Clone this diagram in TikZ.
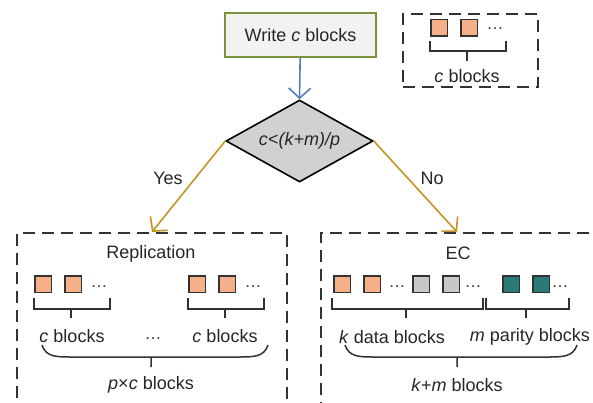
\documentclass[tikz,border=0pt]{standalone}
\usepackage{fontspec}
\setmainfont{Liberation Sans}
\usetikzlibrary{shapes.geometric,arrows.meta}
\definecolor{boxgreen}{RGB}{119,147,60}
\definecolor{boxfill}{RGB}{242,242,242}
\definecolor{arrblue}{RGB}{79,129,189}
\definecolor{arrgold}{RGB}{196,148,36}
\definecolor{sqorange}{RGB}{245,176,138}
\definecolor{sqgray}{RGB}{200,200,200}
\definecolor{sqteal}{RGB}{42,122,120}
\definecolor{dkline}{RGB}{50,50,50}
\tikzset{
  lbl/.style={font=\fontsize{18}{21}\selectfont, text=black!85, inner sep=0pt},
  dots/.style={font=\fontsize{17}{20}\selectfont, text=black!80, inner sep=0pt},
  dbox/.style={draw=dkline, line width=2pt, dash pattern=on 12pt off 7pt, inner sep=0pt},
  sq/.style={draw=dkline, line width=1.5pt, minimum width=16.5pt, minimum height=16.5pt, inner sep=0pt, anchor=north west},
  brk/.style={draw=dkline, line width=1.5pt},
  garrow/.style={draw=arrgold, line width=1.6pt, -{Straight Barb[length=10pt,width=22pt]}},
  barrow/.style={draw=arrblue, line width=1.6pt, -{Straight Barb[length=10pt,width=22pt]}}
}
\begin{document}
\begin{tikzpicture}[x=1pt,y=-1pt]
\useasboundingbox (0,0) rectangle (593,403);
\clip (0,0) rectangle (593,403);
\fill[white] (0,0) rectangle (593,403);

% top flow
\node[draw=boxgreen, fill=boxfill, line width=1.6pt, minimum width=151pt, minimum height=44pt, inner sep=0pt,
      font=\fontsize{18}{21}\selectfont, text=black!85] (write) at (300.5,35) {Write \textit{c} blocks};
\node[diamond, draw=black, fill=black!18, line width=1.6pt, minimum width=147pt, minimum height=82pt, inner sep=0pt, aspect=1.8,
      font=\fontsize{18}{21}\selectfont, text=black!85] (dec) at (299.5,141) {\textit{c<(k+m)/p}};
\draw[barrow] (write) -- (dec.north);

% legend box
\node[dbox, minimum width=135pt, minimum height=73pt, anchor=north west] (legend) at (402,13) {};
\node[sq, fill=sqorange] (l1) at (430,19) {};
\node[sq, fill=sqorange] (l2) at (460,19) {};
\node[dots] (ld) at (495,29) {…};
\draw[brk] (430,41) -- (430,51) -- (506,51) -- (506,41) (467,51) -- (467,61);
\node[lbl] (lt) at (467,76) {\textit{c} blocks};

% replication box
\node[dbox, minimum width=270pt, minimum height=200pt, anchor=north west] (rep) at (16,232) {};
\node[lbl] (reptitle) at (151,254) {Replication};
\node[sq, fill=sqorange] (r1) at (34,275) {};
\node[sq, fill=sqorange] (r2) at (64,275) {};
\node[dots] (rd1) at (99,287) {…};
\node[sq, fill=sqorange] (r3) at (188,275) {};
\node[sq, fill=sqorange] (r4) at (218,275) {};
\node[dots] (rd2) at (253,287) {…};
\draw[brk] (34,298) -- (34,309) -- (110,309) -- (110,298) (71,309) -- (71,318);
\draw[brk] (188,298) -- (188,309) -- (264,309) -- (264,298) (225,309) -- (225,318);
\node[lbl] (rc1) at (72,336) {\textit{c} blocks};
\node[lbl] (rc2) at (225,336) {\textit{c} blocks};
\node[dots] (rd3) at (153,339) {…};
\draw[brk] (42,345) .. controls (46,357) and (56,357) .. (72,357) -- (238,357) .. controls (254,357) and (264,357) .. (268,345) (151,357) -- (151,367);
\node[lbl] (rpc) at (151,385) {\textit{p}×\textit{c} blocks};

% EC box
\node[dbox, minimum width=300pt, minimum height=200pt, anchor=north west] (ec) at (320,232) {};
\coordinate (ecin) at (457,232);
\node[lbl] (ectitle) at (458,253) {EC};
\node[sq, fill=sqorange] (e1) at (333,275) {};
\node[sq, fill=sqorange] (e2) at (363,275) {};
\node[dots] (ed1) at (397,287) {…};
\node[sq, fill=sqgray] (e3) at (412,275) {};
\node[sq, fill=sqgray] (e4) at (442,275) {};
\node[dots] (ed2) at (473,287) {…};
\node[sq, fill=sqteal] (e5) at (502,275) {};
\node[sq, fill=sqteal] (e6) at (532,275) {};
\node[dots] (ed3) at (560,287) {…};
\draw[brk] (332,298) -- (332,309) -- (483,309) -- (483,298) (406,309) -- (406,318);
\draw[brk] (486,298) -- (486,309) -- (569,309) -- (569,298) (526,309) -- (526,318);
\node[lbl] (ek) at (392,337) {\textit{k} data blocks};
\node[lbl] (em) at (530,337) {\textit{m} parity blocks};
\draw[brk] (345,345) .. controls (349,357) and (359,357) .. (375,357) -- (547,357) .. controls (563,357) and (573,357) .. (577,345) (457,357) -- (457,367);
\node[lbl] (ekm) at (457,385) {\textit{k}+\textit{m} blocks};

% decision arrows
\draw[garrow] (dec.west) -- (rep.north);
\draw[garrow] (dec.east) -- (ecin);
\node[lbl] (yes) at (168,178) {Yes};
\node[lbl] (no) at (432,178) {No};
\end{tikzpicture}
\end{document}
